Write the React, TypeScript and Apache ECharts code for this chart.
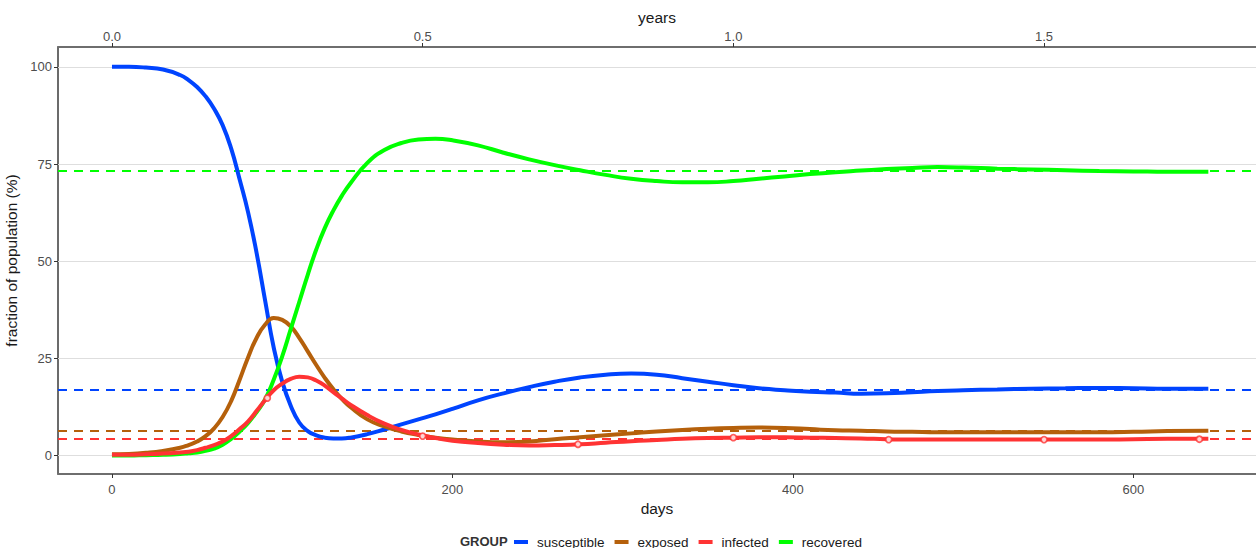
import React, { useEffect, useRef } from "react";
import * as echarts from "echarts";

const days = [0, 10, 20, 30, 40, 45, 50, 55, 60, 65, 70, 75, 80, 85, 90, 95, 100, 105, 110, 115, 120, 125, 130, 135, 140, 150, 160, 170, 180, 190, 200, 215, 230, 245, 260, 275, 290, 305, 320, 335, 350, 365, 380, 395, 410, 425, 440, 455, 470, 485, 500, 520, 540, 560, 580, 600, 620, 644];

const susceptible = [100, 100, 99.8, 99.3, 97.9, 96.6, 94.8, 92.4, 89.2, 85.0, 79.0, 71.0, 62.5, 52.0, 39.8, 27.8, 19.0, 12.8, 8.5, 6.3, 5.2, 4.6, 4.4, 4.4, 4.6, 5.5, 6.7, 8.0, 9.3, 10.6, 12.0, 14.2, 16.0, 17.6, 19.0, 20.1, 20.8, 21.1, 20.8, 19.9, 19.0, 18.1, 17.3, 16.8, 16.4, 16.2, 15.9, 16.0, 16.3, 16.6, 16.8, 17.0, 17.2, 17.3, 17.4, 17.3, 17.2, 17.2];

const exposed = [0.3, 0.4, 0.7, 1.2, 2.0, 2.7, 3.6, 5.0, 7.0, 9.9, 14.0, 19.5, 25.3, 30.3, 33.7, 35.4, 34.9, 33.2, 30.3, 26.8, 23.3, 20.0, 17.1, 14.6, 12.5, 9.3, 7.5, 6.2, 5.3, 4.6, 4.1, 3.6, 3.4, 3.6, 4.2, 4.7, 5.2, 5.7, 6.2, 6.6, 6.9, 7.1, 7.2, 7.1, 6.8, 6.5, 6.4, 6.2, 6.1, 6.0, 6.0, 6.0, 6.0, 6.0, 6.0, 6.1, 6.3, 6.4];

const infected = [0.2, 0.2, 0.3, 0.5, 0.8, 1.0, 1.4, 2.0, 2.7, 3.6, 5.0, 6.8, 8.8, 11.5, 14.3, 16.8, 18.5, 19.7, 20.3, 20.1, 19.3, 18.0, 16.3, 14.7, 13.1, 10.4, 8.2, 6.6, 5.4, 4.5, 3.8, 3.2, 2.8, 2.6, 2.7, 2.9, 3.3, 3.7, 4.0, 4.3, 4.5, 4.6, 4.7, 4.7, 4.6, 4.5, 4.4, 4.2, 4.1, 4.1, 4.1, 4.1, 4.1, 4.1, 4.1, 4.2, 4.3, 4.3];

const recovered = [0, 0, 0.1, 0.2, 0.4, 0.6, 0.8, 1.2, 1.8, 2.8, 4.3, 6.2, 8.4, 11.2, 14.5, 19.5, 25.5, 32.5, 39.5, 46.5, 53.0, 58.5, 63.0, 66.8, 70.0, 75.3, 78.6, 80.4, 81.3, 81.5, 81.1, 79.8, 77.9, 76.2, 74.7, 73.4, 72.2, 71.2, 70.6, 70.3, 70.3, 70.6, 71.2, 71.8, 72.4, 72.9, 73.3, 73.7, 74.0, 74.2, 74.1, 73.8, 73.6, 73.4, 73.2, 73.1, 73.0, 73.0];

const markerDays = [91.25, 182.5, 273.75, 365, 456.25, 547.5, 638.75];
const markerInfected = [14.8, 5.0, 2.9, 4.6, 4.1, 4.1, 4.2];

const groupNames = ["susceptible", "exposed", "infected", "recovered"];
const groupColors = ["#0044FF", "#B5600B", "#FF3333", "#00FF00"];
const equilibriumValues = [16.9, 6.3, 4.2, 73.3];

const dayTicks = [0, 200, 400, 600];
const yearTicks = [0, 0.5, 1.0, 1.5];
const yTicks = [0, 25, 50, 75, 100];

const DAY_MIN = -31.7;
const DAY_MAX = 672;
const FONT = "'Liberation Sans', Arial, sans-serif";

export default function App() {
  const ref = useRef<HTMLDivElement>(null);

  useEffect(() => {
    if (!ref.current) return;
    const chart = echarts.init(ref.current, null, { renderer: "svg" });
    const valuesByGroup = [susceptible, exposed, infected, recovered];
    const drawOrder = [0, 1, 3, 2];

    const curveSeries: any[] = drawOrder.map((g, k) => ({
      name: groupNames[g],
      type: "line",
      xAxisIndex: 0,
      yAxisIndex: 0,
      data: days.map((d, i) => [d, valuesByGroup[g][i]]),
      showSymbol: false,
      symbol: "none",
      smooth: 0.5,
      z: 3 + k,
      lineStyle: { color: groupColors[g], width: 4 },
      itemStyle: { color: groupColors[g] },
      markLine: {
        silent: true,
        symbol: "none",
        z: 2,
        label: { show: false },
        lineStyle: { color: groupColors[g], width: 2, type: [9, 7], opacity: 1 },
        emphasis: { disabled: true },
        data: [{ yAxis: equilibriumValues[g] }],
      },
    }));

    const option: any = {
      animation: false,
      textStyle: { fontFamily: FONT },
      grid: {
        left: 58,
        top: 47,
        width: 1198,
        height: 427,
        containLabel: false,
        outerBoundsMode: "none",
      },
      legend: {
        data: groupNames,
        left: 514,
        top: 535,
        icon: "rect",
        itemWidth: 14,
        itemHeight: 4,
        itemGap: 10,
        padding: 0,
        selectedMode: false,
        textStyle: { fontSize: 13.5, color: "#1a1a1a", fontFamily: FONT, padding: [0, 0, 0, 4] },
      },
      graphic: [
        {
          type: "text",
          left: 460,
          top: 535,
          style: { text: "GROUP", fontSize: 13, fontWeight: "bold", fill: "#333", fontFamily: FONT },
        },
      ],
      xAxis: [
        {
          type: "value",
          position: "bottom",
          min: DAY_MIN,
          max: DAY_MAX,
          name: "days",
          nameLocation: "middle",
          nameGap: 26,
          nameTextStyle: { fontSize: 15.5, color: "#1a1a1a", fontFamily: FONT },
          axisLine: { show: true, onZero: false, lineStyle: { color: "#6e6e6e", width: 2 } },
          axisTick: { show: true, length: 4, customValues: dayTicks, lineStyle: { color: "#333", width: 1 } },
          axisLabel: { customValues: dayTicks, margin: 9, fontSize: 13, color: "#4d4d4d", fontFamily: FONT },
          splitLine: { show: false },
        },
        {
          type: "value",
          position: "top",
          min: DAY_MIN / 365,
          max: DAY_MAX / 365,
          name: "years",
          nameLocation: "middle",
          nameGap: 22,
          nameTextStyle: { fontSize: 15.5, color: "#1a1a1a", fontFamily: FONT },
          axisLine: { show: true, onZero: false, lineStyle: { color: "#6e6e6e", width: 2 } },
          axisTick: { show: true, length: 4, customValues: yearTicks, lineStyle: { color: "#333", width: 1 } },
          axisLabel: {
            customValues: yearTicks,
            margin: 4,
            fontSize: 13,
            color: "#4d4d4d",
            fontFamily: FONT,
            formatter: (v: number) => v.toFixed(1),
          },
          splitLine: { show: false },
        },
      ],
      yAxis: [
        {
          type: "value",
          min: -4.75,
          max: 105.1,
          name: "fraction of population (%)",
          nameLocation: "middle",
          nameGap: 29,
          nameRotate: 90,
          nameTextStyle: { fontSize: 15.5, color: "#1a1a1a", fontFamily: FONT },
          axisLine: { show: true, onZero: false, lineStyle: { color: "#3a3a3a", width: 1.5 } },
          axisTick: { show: true, length: 4, customValues: yTicks, lineStyle: { color: "#333", width: 1 } },
          axisLabel: { customValues: yTicks, margin: 6, fontSize: 13, color: "#4d4d4d", fontFamily: FONT },
          splitLine: { show: false },
        },
      ],
      series: [
        {
          name: "grid",
          type: "line",
          data: [[-1000, -1000]],
          showSymbol: false,
          symbol: "none",
          z: 1,
          lineStyle: { width: 0 },
          markLine: {
            silent: true,
            symbol: "none",
            z: 1,
            label: { show: false },
            lineStyle: { color: "#dedede", width: 1, type: "solid", opacity: 1 },
            emphasis: { disabled: true },
            data: yTicks.map((v) => ({ yAxis: v })),
          },
        },
        ...curveSeries,
        {
          name: "infected-points",
          type: "scatter",
          data: markerDays.map((d, i) => [d, markerInfected[i]]),
          symbol: "circle",
          symbolSize: 6,
          z: 10,
          itemStyle: { color: "#ffffff", borderColor: "#FF3333", borderWidth: 1.8 },
        },
      ],
    };

    chart.setOption(option);
    return () => chart.dispose();
  }, []);

  return (
    <div
      ref={ref}
      style={{ position: "absolute", left: 0, top: 0, width: 1256, height: 548 }}
    />
  );
}
